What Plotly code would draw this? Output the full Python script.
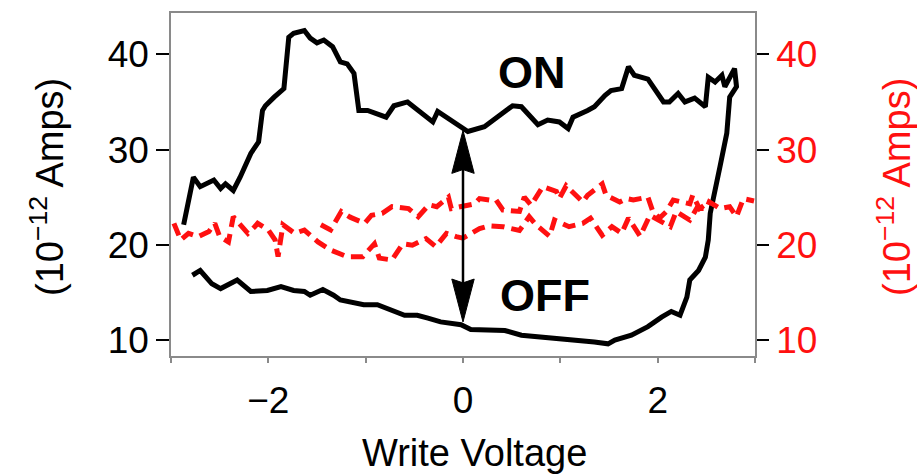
import plotly.graph_objects as go

# ---------------- data ----------------
# Black hysteresis loop: ON branch left->right, steep drop, OFF branch right->left
on_x = [-2.87, -2.77, -2.70, -2.56, -2.49, -2.44, -2.36, -2.29, -2.18, -2.10, -2.06, -2.03,
        -1.94, -1.84, -1.79, -1.74, -1.63, -1.57, -1.50, -1.43, -1.34, -1.26, -1.19, -1.12,
        -1.07, -0.98, -0.79, -0.71, -0.57, -0.43, -0.31, -0.26, -0.16, -0.02, 0.05, 0.22,
        0.39, 0.51, 0.60, 0.77, 0.87, 0.99, 1.08, 1.13, 1.28, 1.35, 1.46, 1.52, 1.63, 1.70,
        1.76, 1.90, 2.06, 2.12, 2.21, 2.28, 2.38, 2.49, 2.52, 2.59, 2.66, 2.69, 2.79, 2.81]
on_y = [22.1, 27.1, 26.1, 26.8, 25.9, 26.4, 25.7, 27.1, 29.6, 30.8, 34.1, 34.6,
        35.5, 36.4, 41.8, 42.2, 42.5, 41.7, 41.2, 41.5, 40.8, 39.2, 39.0, 38.0,
        34.1, 34.1, 33.4, 34.6, 35.0, 33.8, 32.9, 34.0, 33.3, 32.4, 31.9, 32.4,
        33.6, 34.6, 34.5, 32.6, 33.1, 32.9, 32.2, 33.4, 34.1, 34.5, 35.7, 36.2, 36.4, 38.7,
        37.8, 37.4, 35.0, 35.0, 35.9, 35.0, 35.4, 34.5, 37.6, 37.1, 37.8, 36.6, 38.5, 36.6]

off_x = [2.74, 2.71, 2.64, 2.57, 2.54, 2.52, 2.49, 2.42, 2.33, 2.30, 2.23, 2.14, 2.04,
         1.90, 1.73, 1.56, 1.49, 1.35, 1.11, 0.84, 0.60, 0.43, 0.08, -0.02, -0.23, -0.36,
         -0.47, -0.60, -0.74, -0.88, -1.02, -1.12, -1.26, -1.33, -1.44, -1.57, -1.63, -1.74,
         -1.87, -2.01, -2.18, -2.32, -2.39, -2.49, -2.58, -2.70, -2.78]
off_y = [35.5, 31.7, 28.2, 24.7, 23.3, 20.5, 18.7, 17.3, 16.3, 14.5, 12.6, 13.0, 12.4,
         11.4, 10.5, 10.0, 9.6, 9.8, 10.0, 10.35, 10.5, 11.0, 11.1, 11.6, 11.9, 12.3,
         12.6, 12.6, 13.1, 13.7, 13.7, 13.9, 14.2, 14.7, 15.3, 14.7, 15.1, 15.2,
         15.6, 15.2, 15.1, 16.3, 15.9, 15.4, 15.9, 17.3, 16.8]

# Red dashed loop (right axis): shared left band + lower branch, and upper branch
red_lower_x = [-2.97, -2.90, -2.82, -2.72, -2.61, -2.55, -2.50, -2.41, -2.36, -2.28, -2.21,
               -2.14, -2.11, -2.00, -1.93, -1.90, -1.85, -1.73, -1.63, -1.49, -1.36, -1.19,
               -1.03, -0.91, -0.86, -0.73, -0.62, -0.52, -0.38, -0.28, -0.17, -0.07, 0.00,
               0.17, 0.27, 0.41, 0.58, 0.68, 0.75, 0.89, 0.94, 1.09, 1.23, 1.31, 1.43, 1.53,
               1.63, 1.70, 1.82, 1.92, 2.13, 2.19, 2.33, 2.40, 2.50, 2.53, 2.64, 2.74, 2.81,
               2.88, 2.99]
red_lower_y = [22.25, 20.5, 21.2, 20.85, 21.4, 22.25, 20.85, 20.3, 22.95, 22.1, 21.2,
               21.9, 22.25, 21.55, 20.5, 18.75, 22.1, 21.2, 21.55, 20.3, 19.45, 18.75,
               18.75, 20.1, 18.6, 18.4, 20.1, 19.95, 20.65, 19.8, 21.2, 20.85, 20.7,
               21.7, 22.0, 21.9, 21.5, 22.95, 22.1, 20.9, 22.6, 21.9, 22.25, 22.8, 21.0, 21.9,
               21.2, 22.8, 20.9, 23.1, 21.9, 23.5, 22.6, 23.8, 23.8, 24.5, 23.8, 24.0, 22.95,
               24.85, 24.6]

red_upper_x = [-1.46, -1.36, -1.25, -1.16, -1.01, -0.94, -0.83, -0.73, -0.56, -0.46, -0.35,
               -0.27, -0.15, -0.12, 0.12, 0.17, 0.27, 0.34, 0.41, 0.58, 0.63, 0.70, 0.82,
               0.96, 0.99, 1.06, 1.16, 1.23, 1.28, 1.43, 1.47, 1.61, 1.68, 1.75, 1.90, 1.95,
               2.02, 2.09, 2.16, 2.24, 2.33, 2.36, 2.43, 2.53]
red_upper_y = [22.1, 21.55, 23.5, 22.9, 22.25, 23.1, 23.3, 24.0, 23.8, 22.95, 24.2,
               24.0, 25.0, 23.8, 24.3, 24.85, 24.7, 24.7, 23.65, 23.5, 25.0, 24.15, 26.1,
               25.6, 24.85, 26.2, 25.2, 24.5, 25.2, 26.4, 25.2, 24.5, 24.85, 24.7, 25.0, 23.5,
               22.8, 23.5, 24.7, 24.5, 24.3, 25.2, 23.8, 24.5]

x_tickvals = [-2, 0, 2]
x_ticktext = ["−2", "0", "2"]
y_tickvals = [10, 20, 30, 40]

arrow_x = 0.0
arrow_top = 32.0
arrow_bottom = 11.9
on_label = (0.71, 38.1)
off_label = (0.84, 14.7)

# ---------------- figure ----------------
FONT = "Liberation Sans, Arial, Helvetica, sans-serif"
RED = "#ff1010"
GRAY = "#8a8a8a"
X_RANGE = [-3, 3]
Y_RANGE = [8.32, 44.34]
DASH = "13px,7px"

fig = go.Figure()
fig.add_trace(go.Scatter(x=on_x + off_x, y=on_y + off_y, mode="lines",
                         line=dict(color="black", width=5), showlegend=False))
fig.add_trace(go.Scatter(x=red_lower_x, y=red_lower_y, mode="lines", yaxis="y2",
                         line=dict(color=RED, width=5, dash=DASH), showlegend=False))
fig.add_trace(go.Scatter(x=red_upper_x, y=red_upper_y, mode="lines", yaxis="y2",
                         line=dict(color=RED, width=5, dash=DASH), showlegend=False))

# double-headed arrow (shaft + two filled heads)
head_h = 4.5    # in y units
head_w = 0.115  # half width in x units
notch = 0.4
fig.add_shape(type="line", x0=arrow_x, x1=arrow_x, y0=arrow_bottom + 1, y1=arrow_top - 1,
              line=dict(color="black", width=2.5), xref="x", yref="y")
for tip, sgn in [(arrow_top, -1), (arrow_bottom, 1)]:
    base = tip + sgn * head_h
    path = (f"M {arrow_x},{tip} L {arrow_x + head_w},{base} "
            f"L {arrow_x},{base - sgn * notch} L {arrow_x - head_w},{base} Z")
    fig.add_shape(type="path", path=path, fillcolor="black",
                  line=dict(color="black", width=1), xref="x", yref="y")

fig.add_annotation(x=on_label[0], y=on_label[1], text="<b>ON</b>", showarrow=False,
                   font=dict(family=FONT, size=45, color="black"))
fig.add_annotation(x=off_label[0], y=off_label[1], text="<b>OFF</b>", showarrow=False,
                   font=dict(family=FONT, size=45, color="black"))

# axis titles as annotations
fig.add_annotation(xref="paper", yref="paper", x=-0.2123, y=0.4927,
                   text="(10<sup>−12</sup> Amps)", textangle=-90, showarrow=False,
                   xanchor="center", yanchor="middle",
                   font=dict(family=FONT, size=38, color="black"))
fig.add_annotation(xref="paper", yref="paper", x=1.238, y=0.4927,
                   text="(10<sup>−12</sup> Amps)", textangle=-90, showarrow=False,
                   xanchor="center", yanchor="middle",
                   font=dict(family=FONT, size=38, color=RED))
fig.add_annotation(xref="paper", yref="paper", x=0.5205, y=-0.2828,
                   text="Write Voltage", showarrow=False,
                   xanchor="center", yanchor="middle",
                   font=dict(family=FONT, size=38, color="black"))

fig.update_layout(
    width=917, height=475,
    margin=dict(l=171, r=162, t=13, b=119),
    paper_bgcolor="white", plot_bgcolor="white",
    showlegend=False,
    xaxis=dict(range=X_RANGE, tickvals=x_tickvals, ticktext=x_ticktext,
               ticks="outside", ticklen=5, tickwidth=1.5, tickcolor=GRAY,
               ticklabelstandoff=6,
               minor=dict(dtick=1, tick0=0, ticks="outside", ticklen=5, tickwidth=1.5,
                          tickcolor=GRAY, showgrid=False),
               showline=True, linecolor=GRAY, linewidth=1.5, mirror=True,
               showgrid=False, zeroline=False,
               tickfont=dict(family=FONT, size=37, color="black")),
    yaxis=dict(range=Y_RANGE, tickvals=y_tickvals,
               ticks="outside", ticklen=13, tickwidth=2, tickcolor="black",
               showline=True, linecolor=GRAY, linewidth=1.5,
               showgrid=False, zeroline=False,
               tickfont=dict(family=FONT, size=37, color="black")),
    yaxis2=dict(range=Y_RANGE, tickvals=y_tickvals, overlaying="y", side="right",
                ticks="outside", ticklen=12, tickwidth=2, tickcolor="black",
                showline=True, linecolor=GRAY, linewidth=1.5,
                showgrid=False, zeroline=False,
                tickfont=dict(family=FONT, size=37, color=RED)),
)

fig.write_html("out.html")
